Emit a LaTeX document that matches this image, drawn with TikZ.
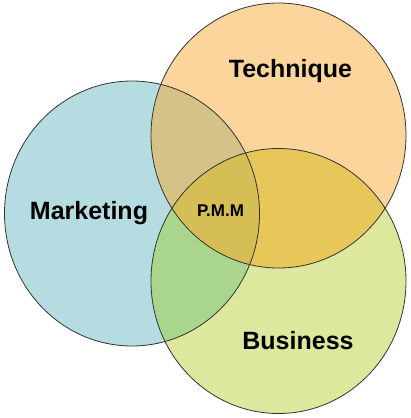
\documentclass[tikz,border=0pt]{standalone}
\usepackage{fontspec}
\setmainfont{Liberation Sans}

% Couleurs des zones
\definecolor{bleuM}{HTML}{B5DCE0}
\definecolor{orangeT}{HTML}{FCD59D}
\definecolor{vertB}{HTML}{DDE89E}
\definecolor{brunMT}{HTML}{D5C287}
\definecolor{vertMB}{HTML}{AAD58D}
\definecolor{jauneTB}{HTML}{E7C65A}
\definecolor{oliveMTB}{HTML}{D4BE55}

\begin{document}
\begin{tikzpicture}[x=1pt, y=-1pt,
    contour/.style={draw=black!80, line width=0.8pt},
    titre/.style={font=\bfseries\fontsize{25}{30}\selectfont, anchor=base},
    centre/.style={font=\bfseries\fontsize{17}{20}\selectfont, anchor=base}]
    % Dimensions de l'image
    \useasboundingbox (0,0) rectangle (411,418);

    % Rayons des cercles
    \pgfmathsetmacro{\rx}{127.5}
    \pgfmathsetmacro{\ry}{132.5}

    % Centres des cercles
    \coordinate (cM) at (132,213.5);
    \coordinate (cT) at (278.5,135.5);
    \coordinate (cB) at (278.5,281);

    % Remplir les cercles
    \foreach \c/\couleur in {cM/bleuM, cT/orangeT, cB/vertB} {
        \fill[\couleur] (\c) ellipse [x radius=\rx pt, y radius=\ry pt];
    }

    % Intersection Technique et Business
    \begin{scope}
        \clip (cT) ellipse [x radius=\rx pt, y radius=\ry pt];
        \fill[jauneTB] (cB) ellipse [x radius=\rx pt, y radius=\ry pt];
    \end{scope}

    % Intersections avec Marketing
    \begin{scope}
        \clip (cM) ellipse [x radius=\rx pt, y radius=\ry pt];
        \fill[brunMT] (cT) ellipse [x radius=\rx pt, y radius=\ry pt];
        \fill[vertMB] (cB) ellipse [x radius=\rx pt, y radius=\ry pt];
        \clip (cT) ellipse [x radius=\rx pt, y radius=\ry pt];
        \fill[oliveMTB] (cB) ellipse [x radius=\rx pt, y radius=\ry pt];
    \end{scope}

    % Dessiner les contours
    \foreach \c in {cM, cT, cB} {
        \draw[contour] (\c) ellipse [x radius=\rx pt, y radius=\ry pt];
    }

    % Textes
    \node[titre] (marketing) at (89,219) {Marketing};
    \node[titre] (technique) at (290.5,77) {Technique};
    \node[titre] (business) at (298,349) {Business};
    \node[centre] (pmm) at (220.5,216.5) {P.M.M};
\end{tikzpicture}
\end{document}
